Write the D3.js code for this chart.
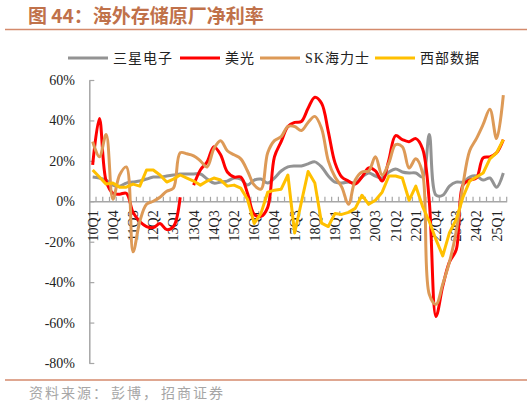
<!DOCTYPE html>
<html>
<head>
<meta charset="utf-8">
<script src="https://cdn.jsdelivr.net/npm/d3@7"></script>
<style>
  body { margin: 0; background: #fff; }
  text { font-family: "Liberation Serif", "Noto Sans CJK SC", serif; }
</style>
</head>
<body>
<div class="canvas"></div>
<script>
// DATA
const quarters = ['10Q1','10Q2','10Q3','10Q4','11Q1','11Q2','11Q3','11Q4','12Q1','12Q2','12Q3','12Q4',
  '13Q1','13Q2','13Q3','13Q4','14Q1','14Q2','14Q3','14Q4','15Q1','15Q2','15Q3','15Q4',
  '16Q1','16Q2','16Q3','16Q4','17Q1','17Q2','17Q3','17Q4','18Q1','18Q2','18Q3','18Q4',
  '19Q1','19Q2','19Q3','19Q4','20Q1','20Q2','20Q3','20Q4','21Q1','21Q2','21Q3','21Q4',
  '22Q1','22Q2','22Q3','22Q4','23Q1','23Q2','23Q3','23Q4','24Q1','24Q2','24Q3','24Q4',
  '25Q1','25Q2'];

const xTickLabels = ['10Q1','10Q4','11Q3','12Q2','13Q1','13Q4','14Q3','15Q2','16Q1','16Q4','17Q3',
  '18Q2','19Q1','19Q4','20Q3','21Q2','22Q1','22Q4','23Q3','24Q2','25Q1'];

const yTicks = [-80, -60, -40, -20, 0, 20, 40, 60];

// net margin, %
const samsung = [12, 11.5, 10.5, 8, 7.5, 9, 9.5, 10, 11, 12,
  12, 12.5, 13, 13.5, 13.5, 13.5, 13.5, 11, 9, 9.5,
  10, 11.5, 11, 8, 10.5, 11, 9, 11.5, 15, 17,
  17.5, 17.5, 18.5, 19.5, 17, 12.5, 9.5, 9, 9.5, 9,
  12, 14, 12.5, 11.5, 14.5, 16, 14.5, 14, 14, 12,
  33, 3, 3, 7.5, 9.5, 9.5, 12, 12.5, 10.5, 11.5,
  7, 14];

const micron = [18, 41, 10, 4, 3.5, 4, -5.5, -10, -12.5, -13,
  -11, -14, -12.5, 2, null, 8, 15.5, 19.5, 27, 23,
  14.5, 12, 12, 4, -6.5, -7.5, -3, 22, 29.5, 37,
  39, 39.5, 46, 51.5, 48.5, 34.5, 19, 12, 10, 8.5,
  12, 16.5, 15, 10, 20.5, 32.5, 30.5, 29.5, 31, 26,
  0, -57, -42, -30, -24, 8, 10.5, 11.5, 21.5, 22,
  24, 30.5];

const hynix = [29.5, 22, 33, 1, 13, 17, -25, -10, -1.5, 0,
  2, 5, 6.5, 24, 23.5, 22.5, 20, 17, 26, 30,
  25, 23, 21, 15, 8, 6, 24, 30, 32, 37,
  37, 35, 39, 42, 36, 20, 12, 7, -1.5, 10.5,
  14.5, 15, 22, 13, 19, 28, 27, 16.5, 21, 14,
  -46, -51, -41, -30, -15, 8, 25, 31, 38, 45.5,
  31, 52.5];

const wdc = [15.5, 12, 8.5, 9, 7, 7, 8.5, 7.5, 15.5, 15.5,
  13, 9.5, 11, 13, 11.5, 10, 8, 10, 11.5, 10.5,
  7.5, 8, 6.5, 1, -11, -6, 4.5, 5.5, 6, 13,
  -15.7, -0.5, 14.7, 9, -10.8, -12.5, -6, -6.5, -5.5, -3.5,
  3, -1.5, 0.5, 4.5, 12.5, 12.5, 11.5, 0.5, 7.5, -2.5,
  -10, -19, -27, -15.5, -9, 2, 10, 12, 14, 21,
  24, 30.5];

const series = [
  {name: '三星电子', values: samsung, color: '#939393', smooth: true},
  {name: '美光', values: micron, color: '#ff0000', smooth: true},
  {name: 'SK海力士', values: hynix, color: '#dd9a57', smooth: true},
  {name: '西部数据', values: wdc, color: '#ffc000', smooth: false}
];

const svg = d3.select('.canvas')
  .append('svg')
    .attr('width', 532)
    .attr('height', 407)
    .style('display', 'block');

svg.append('rect')
  .attr('width', 532)
  .attr('height', 407)
  .attr('fill', '#fff');

// title + rules
svg.append('text')
  .attr('x', 28)
  .attr('y', 23)
  .attr('fill', '#c0714a')
  .attr('font-size', 19)
  .attr('font-weight', 'bold')
  .style('font-family', '"Noto Sans CJK SC", sans-serif')
  .text('图 44：海外存储原厂净利率');

svg.append('line')
  .attr('x1', 5).attr('x2', 527)
  .attr('y1', 29.5).attr('y2', 29.5)
  .attr('stroke', '#d48a6c')
  .attr('stroke-width', 1.5);

svg.append('line')
  .attr('x1', 5).attr('x2', 527)
  .attr('y1', 380).attr('y2', 380)
  .attr('stroke', '#d48a6c')
  .attr('stroke-width', 1.5);

const source = svg.append('text')
  .attr('x', 29)
  .attr('y', 398)
  .attr('fill', '#a6a6a6')
  .attr('font-size', 14)
  .attr('letter-spacing', 2)
  .style('font-family', '"Noto Sans CJK SC", sans-serif');
source.append('tspan').text('资料来源：');
source.append('tspan').attr('dx', 2).text('彭博，');
source.append('tspan').attr('dx', 2).text('招商证券');

// create scales
const x = d3.scaleBand()
  .domain(quarters)
  .range([89.3, 506.7]);

const y = d3.scaleLinear()
  .domain([-80, 60])
  .range([363, 80]);

const cx = q => x(q) + x.bandwidth() / 2;

// y axis
const yAxis = d3.axisLeft(y)
  .tickValues(yTicks)
  .tickFormat(d => d + '%')
  .tickSize(-5)
  .tickSizeOuter(0)
  .tickPadding(14.3);

const yAxisGroup = svg.append('g')
  .attr('transform', 'translate(89.3, 0)')
  .call(yAxis);

yAxisGroup.select('.domain')
  .attr('stroke', '#a6a6a6')
  .attr('stroke-width', 1.5);
yAxisGroup.selectAll('.tick line')
  .attr('stroke', '#a6a6a6')
  .attr('stroke-width', 1.2);
yAxisGroup.selectAll('text')
  .attr('fill', '#222')
  .attr('font-size', 14)
  .style('font-family', '"Liberation Serif", serif');

// x axis at 0%
const xAxis = d3.axisBottom(x)
  .tickValues(xTickLabels)
  .tickSize(0)
  .tickSizeOuter(0);

const xAxisGroup = svg.append('g')
  .attr('transform', `translate(0, ${y(0)})`)
  .call(xAxis);

xAxisGroup.select('.domain')
  .attr('stroke', '#a6a6a6')
  .attr('stroke-width', 1.5);

xAxisGroup.selectAll('text')
  .attr('transform', 'rotate(-90)')
  .attr('text-anchor', 'end')
  .attr('x', -9)
  .attr('y', 0)
  .attr('dy', '0.35em')
  .attr('fill', '#222')
  .attr('font-size', 14)
  .style('font-family', '"Liberation Serif", serif');

// category tick marks between bands, pointing up
xAxisGroup.selectAll('.cat-tick')
  .data(quarters.slice(1).map(q => x(q)).concat([x.range()[1]]))
  .enter()
  .append('line')
    .attr('class', 'cat-tick')
    .attr('x1', d => d).attr('x2', d => d)
    .attr('y1', 0).attr('y2', -4.5)
    .attr('stroke', '#a6a6a6')
    .attr('stroke-width', 1.2);

// legend
const legendPos = [68, 180, 260, 375];
const legend = svg.append('g');
series.forEach((s, i) => {
  const g = legend.append('g')
    .attr('transform', `translate(${legendPos[i]}, 58)`);
  g.append('line')
    .attr('x1', 0).attr('x2', 40)
    .attr('stroke', s.color)
    .attr('stroke-width', 3);
  g.append('text')
    .attr('x', 45)
    .attr('dy', '0.35em')
    .attr('font-size', 14)
    .attr('letter-spacing', 1)
    .attr('fill', '#222')
    .text(s.name);
});

// lines
const graph = svg.append('g');
series.forEach(s => {
  const line = d3.line()
    .defined(d => d.v != null)
    .x(d => cx(d.q))
    .y(d => y(d.v))
    .curve(s.smooth ? d3.curveCatmullRom.alpha(0.5) : d3.curveLinear);

  graph.append('path')
    .datum(quarters.map((q, i) => ({q: q, v: s.values[i]})))
    .attr('fill', 'none')
    .attr('stroke', s.color)
    .attr('stroke-width', 3)
    .attr('stroke-linejoin', 'round')
    .attr('d', line);
});
</script>
</body>
</html>
